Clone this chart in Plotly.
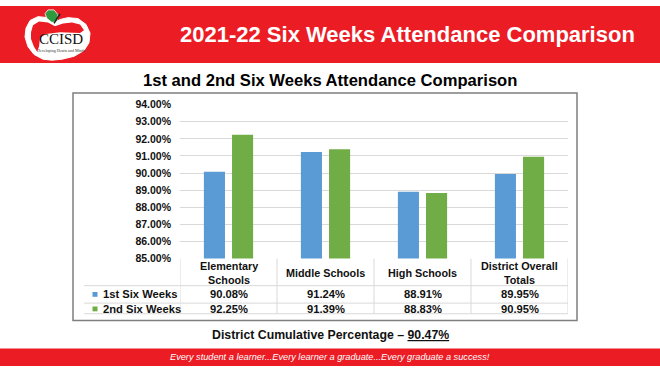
import plotly.graph_objects as go

# ---------------- data ----------------
categories = ["Elementary Schools", "Middle Schools", "High Schools", "District Overall Totals"]
category_labels = ["Elementary<br>Schools", "Middle Schools", "High Schools", "District Overall<br>Totals"]
series_names = ["1st Six Weeks", "2nd Six Weeks"]
first_six_weeks = [90.08, 91.24, 88.91, 89.95]
second_six_weeks = [92.25, 91.39, 88.83, 90.95]
y_ticks = [85, 86, 87, 88, 89, 90, 91, 92, 93, 94]
header_title = "2021-22 Six Weeks Attendance Comparison"
chart_title = "1st and 2nd Six Weeks Attendance Comparison"
cumulative_text = "District Cumulative Percentage – "
cumulative_value = "90.47%"
footer_text = "Every student a learner...Every learner a graduate...Every graduate a success!"

# ---------------- styling ----------------
W, H = 660, 372
RED = "#ec1c24"
BLUE = "#5b9bd5"
GREEN = "#70ad47"
GRID = "#d9d9d9"
FONT = "Liberation Sans, Arial, sans-serif"
NARROW = "Liberation Sans Narrow, Arial Narrow, Liberation Sans, sans-serif"
series_values = [first_six_weeks, second_six_weeks]
series_colors = [BLUE, GREEN]


def X(px):
    return px / W


def Y(py):
    return 1 - py / H


fig = go.Figure()
for name, vals, col in zip(series_names, series_values, series_colors):
    fig.add_trace(go.Bar(x=categories, y=vals, name=name, marker=dict(color=col, line=dict(width=0)),
                         showlegend=False))

shapes = []
annotations = []

# header / footer bands
shapes.append(dict(type="rect", xref="paper", yref="paper", x0=0, x1=1, y0=Y(59), y1=1,
                   fillcolor=RED, line=dict(width=0), layer="below"))
shapes.append(dict(type="rect", xref="paper", yref="paper", x0=0, x1=1, y0=0, y1=Y(354),
                   fillcolor=RED, line=dict(width=0), layer="below"))

# chart frame
shapes.append(dict(type="rect", xref="paper", yref="paper", x0=X(73), x1=X(577), y0=Y(325), y1=Y(90),
                   fillcolor="rgba(0,0,0,0)", line=dict(color="#7f7f7f", width=1.5)))

# data table lines
for i in range(len(categories) + 1):
    shapes.append(dict(type="line", xref="x", yref="paper", x0=i - 0.5, x1=i - 0.5, y0=Y(318), y1=Y(261),
                       line=dict(color=GRID, width=1)))
for py in (289, 307, 318):
    shapes.append(dict(type="line", xref="paper", yref="paper", x0=X(84), x1=X(568), y0=Y(py), y1=Y(py),
                       line=dict(color=GRID, width=1)))

# legend keys in table
row_y = [298, 313]
for name, col, ry in zip(series_names, series_colors, row_y):
    shapes.append(dict(type="rect", xref="paper", yref="paper", x0=X(92.5), x1=X(97.5), y0=Y(ry + 2.5),
                       y1=Y(ry - 2.5), fillcolor=col, line=dict(width=0)))
    annotations.append(dict(text="<b>%s</b>" % name, xref="paper", yref="paper", x=X(100.5), y=Y(ry),
                            xanchor="left", yanchor="middle", showarrow=False,
                            font=dict(family=FONT, size=11.2, color="#111111")))

# category header cells and values
for i, lab in enumerate(category_labels):
    annotations.append(dict(text="<b>%s</b>" % lab, xref="x", yref="paper", x=categories[i], y=Y(275.5),
                            xanchor="center", yanchor="middle", showarrow=False,
                            font=dict(family=FONT, size=10.8, color="#111111")))
    for vals, ry in zip(series_values, row_y):
        annotations.append(dict(text="<b>%.2f%%</b>" % vals[i], xref="x", yref="paper", x=categories[i],
                                y=Y(ry), xanchor="center", yanchor="middle", showarrow=False,
                                font=dict(family=FONT, size=11.2, color="#111111")))

# titles
annotations.append(dict(text="<b>%s</b>" % header_title, xref="paper", yref="paper", x=X(407.5), y=Y(29),
                        xanchor="center", yanchor="middle", showarrow=False,
                        font=dict(family=FONT, size=22, color="white")))
annotations.append(dict(text="<b>%s</b>" % chart_title, xref="paper", yref="paper", x=X(329.5), y=Y(76.5),
                        xanchor="center", yanchor="middle", showarrow=False,
                        font=dict(family=FONT, size=16.6, color="#000000")))
annotations.append(dict(text="<b>%s<u>%s</u></b>" % (cumulative_text, cumulative_value), xref="paper",
                        yref="paper", x=X(330), y=Y(340), xanchor="center", yanchor="middle",
                        showarrow=False, font=dict(family=NARROW, size=12.3, color="#111111")))
annotations.append(dict(text="<i>%s</i>" % footer_text, xref="paper", yref="paper", x=X(330),
                        y=Y(363), xanchor="center", yanchor="middle", showarrow=False,
                        font=dict(family=NARROW, size=9.2, color="white")))

# ---- logo (approximate) ----
def path(points):
    return "M " + " L ".join("%.4f,%.4f" % (X(a), Y(b)) for a, b in points) + " Z"

apple = [(55, 17), (48, 12), (38, 11), (30, 15), (26, 23), (25, 32), (28, 42), (34, 50), (43, 55),
         (52, 56), (62, 55), (74, 52), (84, 46), (89, 38), (90, 28), (86, 19), (78, 13), (68, 12), (60, 14)]
shapes.append(dict(type="path", xref="paper", yref="paper", path=path(apple), fillcolor="white",
                   line=dict(color="white", width=1)))
inner = [(55, 21), (48, 17), (39, 16), (33, 20), (31, 27), (31, 34), (34, 42), (37, 47), (39, 42),
         (40, 33), (46, 29), (60, 27), (80, 28), (84, 25), (80, 19), (72, 17), (63, 18)]
shapes.append(dict(type="path", xref="paper", yref="paper", path=path(inner), fillcolor=RED,
                   line=dict(width=0)))
leaf = [(45, 8), (48, 4), (54, 4), (58, 9), (57, 16), (52, 17), (47, 13)]
shapes.append(dict(type="path", xref="paper", yref="paper", path=path(leaf), fillcolor="#2e9a3e",
                   line=dict(color="white", width=0.8)))
shapes.append(dict(type="line", xref="paper", yref="paper", x0=X(54), x1=X(60), y0=Y(18), y1=Y(8),
                   line=dict(color="#222222", width=1.5)))
annotations.append(dict(text="CCISD", xref="paper", yref="paper", x=X(61), y=Y(34), xanchor="center",
                        yanchor="middle", showarrow=False,
                        font=dict(family="Liberation Serif, Times New Roman, serif", size=15, color="#111111")))
annotations.append(dict(text="Developing Hearts and Minds", xref="paper", yref="paper", x=X(62), y=Y(46),
                        xanchor="center", yanchor="middle", showarrow=False,
                        font=dict(family="Liberation Serif, serif", size=4, color="#333333")))

fig.update_layout(
    width=W, height=H,
    margin=dict(l=0, r=0, t=0, b=0),
    paper_bgcolor="white", plot_bgcolor="white",
    barmode="group", bargap=0.42, bargroupgap=0.25,
    xaxis=dict(domain=[X(180), X(568)], showticklabels=False, showgrid=False, zeroline=False,
               showline=False, ticks="", range=[-0.5, 3.5], fixedrange=True),
    yaxis=dict(domain=[Y(261), Y(102)], range=[85, 94], tickvals=y_ticks,
               ticktext=["<b>%.2f%%</b>" % v for v in y_ticks], showgrid=True, gridcolor=GRID,
               gridwidth=1, zeroline=False, showline=False, ticks="", ticklabelstandoff=8,
               tickfont=dict(family=FONT, size=10.5, color="#111111"), fixedrange=True),
    shapes=shapes, annotations=annotations,
)

fig.write_html("out.html", config={"displayModeBar": False},
               post_script="document.body.style.margin='0';document.body.style.overflow='hidden';")
